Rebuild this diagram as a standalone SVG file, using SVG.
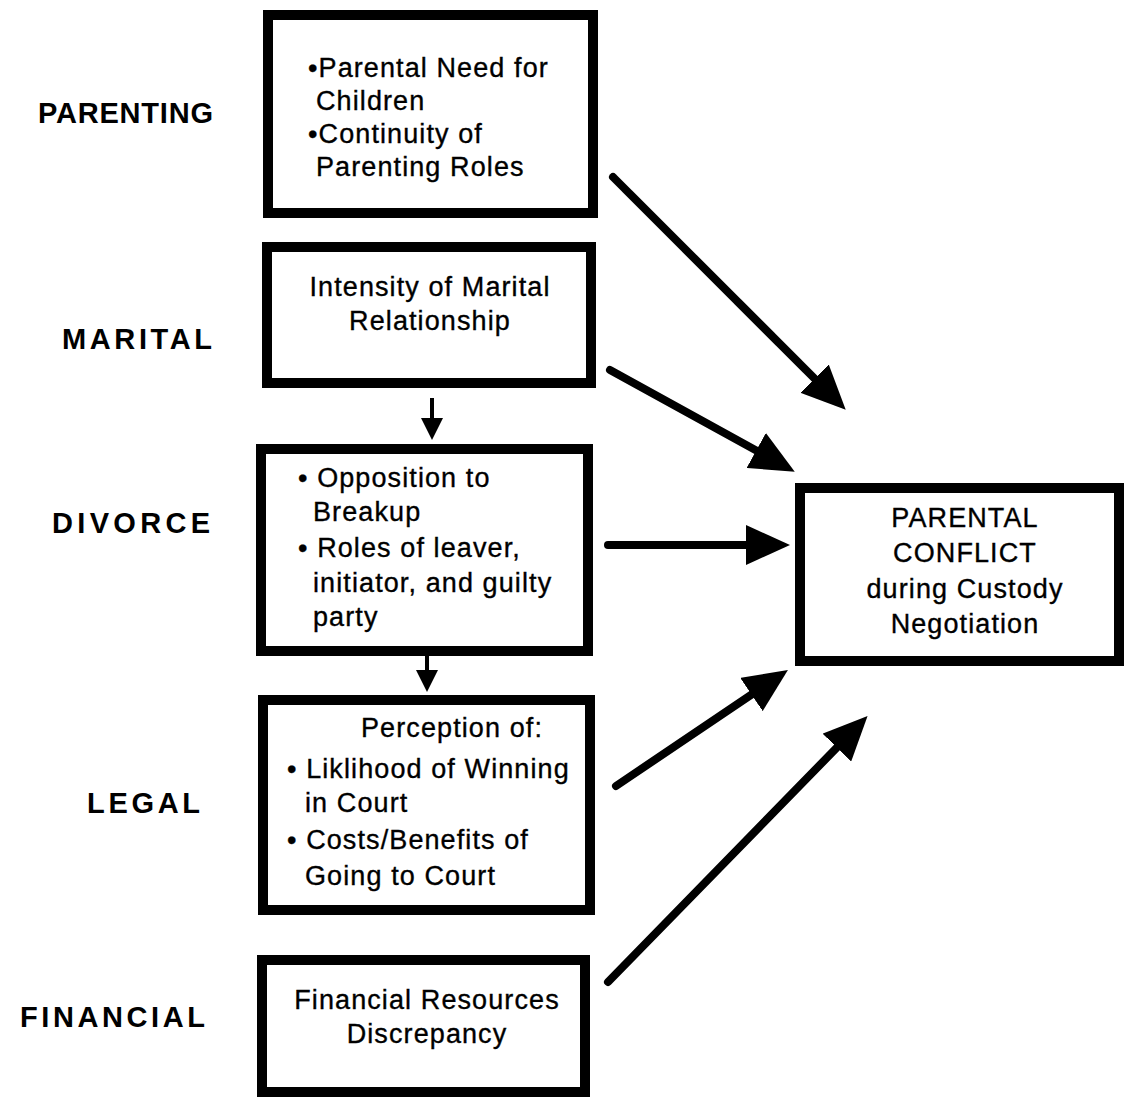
<svg xmlns="http://www.w3.org/2000/svg" width="1134" height="1098" viewBox="0 0 1134 1098">
<style>
.box{fill:#fff;stroke:#000;stroke-width:10}
.t{font-family:"Liberation Sans",Arial,sans-serif;font-size:27px;letter-spacing:1.1px;fill:#000;stroke:#000;stroke-width:0.35}
.c{text-anchor:middle}
.lab{font-family:"Liberation Sans",Arial,sans-serif;font-size:29px;font-weight:bold;fill:#000}
.big{fill:none;stroke:#000;stroke-width:8;stroke-linecap:round}
.small{fill:none;stroke:#000;stroke-width:4}
</style>
<defs>
<marker id="ah" markerUnits="userSpaceOnUse" markerWidth="44" markerHeight="40" viewBox="0 0 44 40" refX="26" refY="20" orient="auto">
<path d="M0,0 L44,20 L0,40 z" fill="#000"/>
</marker>
<marker id="as" markerUnits="userSpaceOnUse" markerWidth="22" markerHeight="22" viewBox="0 0 22 22" refX="12" refY="11" orient="auto">
<path d="M0,0 L22,11 L0,22 z" fill="#000"/>
</marker>
</defs>
<rect width="1134" height="1098" fill="#fff"/>

<g id="labels">
<text class="lab" x="38" y="123" textLength="175" lengthAdjust="spacing">PARENTING</text>
<text class="lab" x="62" y="349" textLength="150" lengthAdjust="spacing">MARITAL</text>
<text class="lab" x="52" y="533" textLength="158" lengthAdjust="spacing">DIVORCE</text>
<text class="lab" x="87" y="813" textLength="113" lengthAdjust="spacing">LEGAL</text>
<text class="lab" x="20" y="1027" textLength="185" lengthAdjust="spacing">FINANCIAL</text>
</g>

<g id="parenting">
<rect class="box" x="268" y="15" width="325" height="198"/>
<text class="t" x="308" y="77">•Parental Need for</text>
<text class="t" x="316" y="110">Children</text>
<text class="t" x="308" y="143">•Continuity of</text>
<text class="t" x="316" y="176">Parenting Roles</text>
</g>

<g id="marital">
<rect class="box" x="267" y="247" width="324" height="136"/>
<text class="t c" x="430" y="296">Intensity of Marital</text>
<text class="t c" x="430" y="330">Relationship</text>
</g>

<g id="divorce">
<rect class="box" x="261" y="449" width="327" height="202"/>
<text class="t" x="298" y="487">• Opposition to</text>
<text class="t" x="313" y="521">Breakup</text>
<text class="t" x="298" y="557">• Roles of leaver,</text>
<text class="t" x="313" y="592">initiator, and guilty</text>
<text class="t" x="313" y="626">party</text>
</g>

<g id="legal">
<rect class="box" x="263" y="700" width="327" height="210"/>
<text class="t c" x="452" y="737">Perception of:</text>
<text class="t" x="287" y="778">• Liklihood of Winning</text>
<text class="t" x="305" y="812">in Court</text>
<text class="t" x="287" y="849">• Costs/Benefits of</text>
<text class="t" x="305" y="885">Going to Court</text>
</g>

<g id="financial">
<rect class="box" x="262" y="960" width="323" height="132"/>
<text class="t c" x="427" y="1009">Financial Resources</text>
<text class="t c" x="427" y="1043">Discrepancy</text>
</g>

<g id="conflict">
<rect class="box" x="800" y="488" width="319" height="173"/>
<text class="t c" x="965" y="527">PARENTAL</text>
<text class="t c" x="965" y="562">CONFLICT</text>
<text class="t c" x="965" y="598">during Custody</text>
<text class="t c" x="965" y="633">Negotiation</text>
</g>

<g id="connectors">
<path class="big" d="M613,177 L833,397" marker-end="url(#ah)"/>
<path class="big" d="M610,370 L779,463" marker-end="url(#ah)"/>
<path class="big" d="M608,545 L772,545" marker-end="url(#ah)"/>
<path class="big" d="M616,786 L773,680" marker-end="url(#ah)"/>
<path class="big" d="M608,982 L855,729" marker-end="url(#ah)"/>
<path class="small" d="M432,398 L432,430" marker-end="url(#as)"/>
<path class="small" d="M427,656 L427,682" marker-end="url(#as)"/>
</g>
</svg>
